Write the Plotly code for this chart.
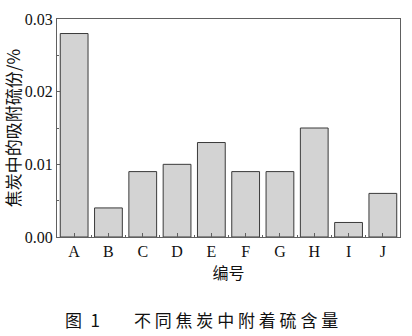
import plotly.graph_objects as go

categories = ["A", "B", "C", "D", "E", "F", "G", "H", "I", "J"]
values = [0.028, 0.004, 0.009, 0.010, 0.013, 0.009, 0.009, 0.015, 0.002, 0.006]
y_ticks = [0.00, 0.01, 0.02, 0.03]
y_ticktext = ["0.00", "0.01", "0.02", "0.03"]
x_title = "编号"
y_title = "焦炭中的吸附硫份/%"
caption = "图\u20021\u2003\u2003不 同 焦 炭 中 附 着 硫 含 量"

positions = list(range(len(categories)))

fig = go.Figure()
fig.add_trace(go.Bar(
    x=positions, y=values,
    marker=dict(color="#d3d3d3", line=dict(color="#3a3a3a", width=1)),
    width=0.81,
))

serif = "Liberation Serif, Times New Roman, serif"
cjk = "Noto Sans CJK SC"
axis_color = "#606060"

fig.update_layout(
    width=412, height=336,
    margin=dict(l=55, r=12, t=11, b=99),
    plot_bgcolor="white", paper_bgcolor="white",
    showlegend=False,
    xaxis=dict(
        range=[-0.5, len(categories) - 0.5],
        tickvals=positions, ticktext=categories,
        ticks="inside", ticklen=4, tickcolor=axis_color,
        showline=True, linecolor=axis_color, linewidth=1, mirror=True,
        showgrid=False, zeroline=False,
        tickfont=dict(family=serif, size=16, color="#111"),
        minor=dict(tickvals=[p + 0.5 for p in positions[:-1]], ticks="inside", ticklen=2, tickcolor=axis_color),
        title=dict(text=x_title, font=dict(family=cjk, size=16, color="#111"), standoff=0),
    ),
    yaxis=dict(
        range=[0, 0.03],
        tickvals=y_ticks, ticktext=y_ticktext,
        ticks="inside", ticklen=4, tickcolor=axis_color,
        showline=True, linecolor=axis_color, linewidth=1, mirror=True,
        showgrid=False, zeroline=False,
        tickfont=dict(family=serif, size=16, color="#111"),
        minor=dict(dtick=0.005, ticks="inside", ticklen=2, tickcolor=axis_color),
        title=dict(text=y_title, font=dict(family=cjk, size=17, color="#111"), standoff=2),
    ),
    annotations=[dict(
        text=caption, xref="paper", yref="paper", x=0.42, y=-0.31,
        xanchor="center", yanchor="top", showarrow=False,
        font=dict(family=cjk, size=17, color="#111"),
    )],
)

fig.write_html("out.html")
